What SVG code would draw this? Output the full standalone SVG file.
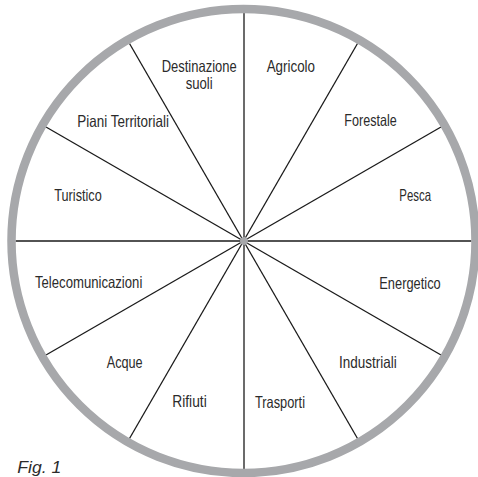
<svg xmlns="http://www.w3.org/2000/svg" width="478" height="477" viewBox="0 0 478 477">
<style>
.lbl{font-family:"Liberation Sans",Arial,sans-serif;font-size:16.5px;fill:#2b2b2b}
.fig{font-family:"Liberation Sans",Arial,sans-serif;font-size:17px;font-style:italic;fill:#2b2b2b}
.sp{stroke:#1a1a1a;stroke-width:1.3;fill:none}
</style>
<rect width="478" height="477" fill="#ffffff"/>
<g id="connectors">
<line class="sp" x1="243.5" y1="241" x2="471.5" y2="241" style="stroke-width:1.6"/>
<line class="sp" x1="243.5" y1="241" x2="15.5" y2="241" style="stroke-width:1.6"/>
<line class="sp" x1="243.5" y1="241" x2="441" y2="127"/>
<line class="sp" x1="243.5" y1="241" x2="357.5" y2="43.5"/>
<line class="sp" x1="243.5" y1="241" x2="129.5" y2="43.5"/>
<line class="sp" x1="243.5" y1="241" x2="46" y2="127"/>
<line class="sp" x1="243.5" y1="241" x2="46" y2="355"/>
<line class="sp" x1="243.5" y1="241" x2="129.5" y2="438.5"/>
<line class="sp" x1="243.5" y1="241" x2="357.5" y2="438.5"/>
<line class="sp" x1="243.5" y1="241" x2="441" y2="355"/>
<line x1="244" y1="13" x2="244" y2="469" stroke="#6b6b6b" stroke-width="2"/>
</g>
<g id="ring">
<circle cx="243.5" cy="241" r="232" fill="none" stroke="#a7a8ab" stroke-width="8.5"/>
<circle cx="244" cy="241" r="4" fill="#a7a8ab"/>
</g>
<g id="node-destinazione"><text class="lbl" x="161.7" y="71.5" textLength="75" lengthAdjust="spacingAndGlyphs">Destinazione</text><text class="lbl" x="185.7" y="88.5" textLength="27" lengthAdjust="spacingAndGlyphs">suoli</text></g>
<g id="node-agricolo"><text class="lbl" x="266.7" y="72.3" textLength="48.3" lengthAdjust="spacingAndGlyphs">Agricolo</text></g>
<g id="node-piani"><text class="lbl" x="77.3" y="126.7" textLength="91.7" lengthAdjust="spacingAndGlyphs">Piani Territoriali</text></g>
<g id="node-forestale"><text class="lbl" x="344.3" y="125.7" textLength="52.4" lengthAdjust="spacingAndGlyphs">Forestale</text></g>
<g id="node-turistico"><text class="lbl" x="54.3" y="200.7" textLength="47.4" lengthAdjust="spacingAndGlyphs">Turistico</text></g>
<g id="node-pesca"><text class="lbl" x="399.3" y="201" textLength="31.7" lengthAdjust="spacingAndGlyphs">Pesca</text></g>
<g id="node-telecomunicazioni"><text class="lbl" x="35" y="288.3" textLength="107.3" lengthAdjust="spacingAndGlyphs">Telecomunicazioni</text></g>
<g id="node-energetico"><text class="lbl" x="379.3" y="289.3" textLength="61.4" lengthAdjust="spacingAndGlyphs">Energetico</text></g>
<g id="node-acque"><text class="lbl" x="106.7" y="367.7" textLength="36" lengthAdjust="spacingAndGlyphs">Acque</text></g>
<g id="node-industriali"><text class="lbl" x="339" y="368.3" textLength="57.7" lengthAdjust="spacingAndGlyphs">Industriali</text></g>
<g id="node-rifiuti"><text class="lbl" x="172.3" y="406.7" textLength="34.4" lengthAdjust="spacingAndGlyphs">Rifiuti</text></g>
<g id="node-trasporti"><text class="lbl" x="255" y="408.3" textLength="50" lengthAdjust="spacingAndGlyphs">Trasporti</text></g>
<g id="caption"><text class="fig" x="17.3" y="473" textLength="44" lengthAdjust="spacingAndGlyphs">Fig. 1</text></g>
</svg>
